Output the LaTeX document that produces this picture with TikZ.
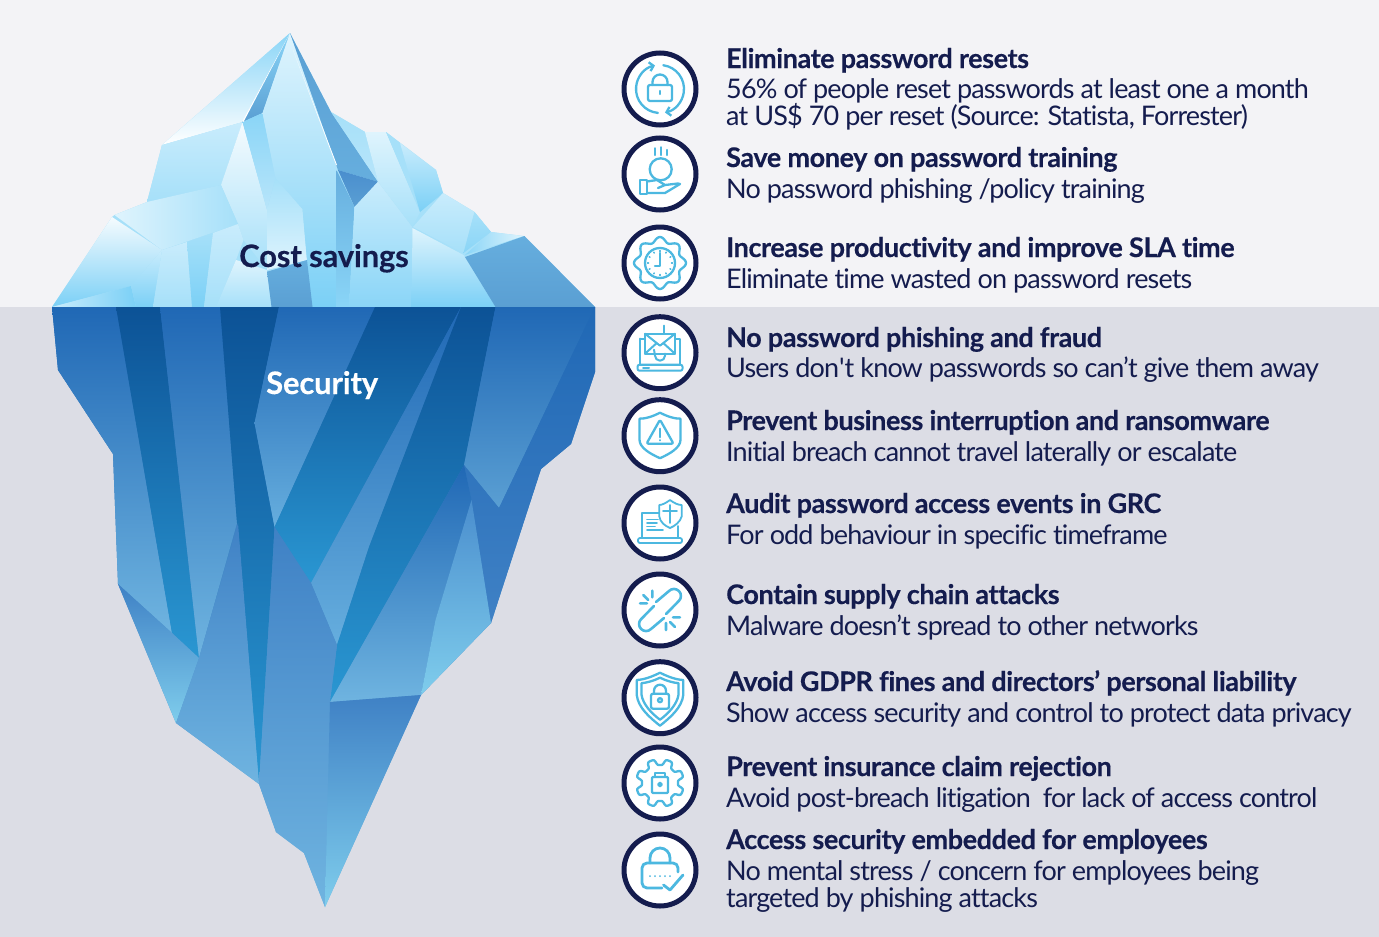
\documentclass[tikz,border=0pt]{standalone}
\usepackage{fontspec}
\setmainfont[Ligatures={TeX,NoCommon}]{Lato}
\usetikzlibrary{arrows.meta}
\definecolor{navy}{HTML}{141C4E}
\definecolor{iconblue}{HTML}{4CB8E0}
\definecolor{sky}{HTML}{F3F3F6}
\definecolor{sea}{HTML}{DCDDE5}
\definecolor{iceW}{HTML}{F5FBFE}
\definecolor{iceA}{HTML}{DFF4FD}
\definecolor{iceB}{HTML}{C9ECFC}
\definecolor{iceC}{HTML}{B8E5FA}
\definecolor{iceD}{HTML}{A6E0F9}
\definecolor{iceE}{HTML}{8AD5F7}
\definecolor{iceF}{HTML}{7BD0F6}
\definecolor{iceG}{HTML}{66AEDE}
\definecolor{iceH}{HTML}{5A9FD3}
\definecolor{iceI}{HTML}{4A8ECE}
\definecolor{surf}{HTML}{2068B5}
\definecolor{deep}{HTML}{0C5296}
\definecolor{cyanb}{HTML}{2A97D2}
\definecolor{palew}{HTML}{6FB4E0}
\definecolor{midw}{HTML}{3F81C5}
\definecolor{tipw}{HTML}{7FCDEC}
\tikzset{
  ice/.style 2 args={top color=#1,bottom color=#2,draw=none},
  iceh/.style 2 args={left color=#1,right color=#2,draw=none},
  badge/.style={draw=navy,fill=white,circle,line width=5pt,minimum size=72pt,inner sep=0pt},
  iconline/.style={draw=iconblue,line width=2.3pt,line cap=round,line join=round},
  head/.style={anchor=base west,inner sep=0pt,text=navy,font=\fontsize{27}{27}\selectfont\bfseries\addfontfeature{LetterSpace=-1.5,FakeBold=0.3}},
  sub/.style={anchor=base west,inner sep=0pt,text=navy,font=\fontsize{27}{27}\selectfont\addfontfeature{LetterSpace=-3.2}},
  tag/.style={anchor=base west,inner sep=0pt,font=\fontsize{31}{31}\selectfont\bfseries\addfontfeature{LetterSpace=-0.6,FakeBold=0.3}},
}
\begin{document}
\begin{tikzpicture}[x=1pt,y=-1pt]
    \useasboundingbox (0,0) rectangle (1379,937);
    \fill[sky] (0,0) rectangle (1379,307);
    \fill[sea] (0,307) rectangle (1379,937);

    \shade[ice={iceD}{iceD}] (290,33)--(331,112)--(365,132)--(386,132)--(436,170)--(443,193)--(474.5,212)--(491,232)--(523.5,236)--(595,307)--(52,307)--(112,217)--(114.5,215)--(147,202)--(162,145)--cycle;
    \shade[ice={iceE}{white}] (290,33)--(162,145)--(242.5,122)--cycle;
    \shade[ice={iceE}{iceH}] (290,33)--(242.5,122)--(262.5,113)--cycle;
    \shade[ice={iceB}{iceD}] (162,145)--(242.5,122)--(221,185)--(147,202)--cycle;
    \shade[ice={iceW}{iceD}] (242.5,122)--(221,185)--(238,224)--(243.5,240)--(267,270)--(267,210)--cycle;
    \shade[ice={iceE}{iceC}] (242.5,122)--(262.5,113)--(275.5,178)--(267,210)--cycle;
    \shade[ice={iceD}{iceA}] (275.5,178)--(302.5,209)--(307,260)--(267,270)--(267,210)--cycle;
    \shade[ice={iceA}{iceF}] (290,33)--(262.5,113)--(275.5,178)--(302.5,209)--(311,307)--(336.5,307)--(337,167)--cycle;
    \shade[ice={iceH}{iceG}] (290,33)--(331,112)--(378,181.7)--(338,170)--cycle;
    \shade[ice={iceI}{iceH}] (338,170)--(378,181.7)--(354.5,207)--cycle;
    \shade[ice={iceG}{iceE}] (336.5,170)--(354.5,207)--(349,307)--(336.5,307)--cycle;
    \shade[ice={iceB}{iceE}] (354.5,207)--(378,181.7)--(412.5,227)--(411.5,307)--(349,307)--cycle;
    \shade[ice={iceD}{iceC}] (331,112)--(365,132)--(378,181.7)--cycle;
    \shade[ice={iceA}{iceD}] (365,132)--(386,132)--(420,212)--(412.5,227)--(378,181.7)--cycle;
    \shade[ice={iceD}{iceD}] (386,132)--(400,143)--(423.5,200)--(420,212)--cycle;
    \shade[ice={iceB}{iceF}] (400,143)--(436,170)--(443,193)--(420,212)--cycle;
    \shade[ice={iceB}{iceD}] (443,193)--(474.5,212)--(463.5,253)--(413,227)--cycle;
    \shade[ice={iceD}{iceE}] (474.5,212)--(491,232)--(463.5,253)--cycle;
    \shade[iceh={iceE}{iceA}] (491,232)--(523.5,236)--(465,255)--cycle;
    \shade[ice={iceA}{iceF}] (412.5,228)--(463.5,255)--(495.5,307)--(411.5,307)--cycle;
    \shade[ice={iceG}{iceH}] (465,257)--(524.5,236)--(595,307)--(495.5,307)--cycle;
    \shade[iceh={iceA}{iceD}] (221,185)--(147,202)--(114.5,215)--(162,250)--(238,224)--cycle;
    \shade[ice={iceW}{iceF}] (112,217)--(162,250)--(131,286)--(52,307)--cycle;
    \shade[iceh={iceB}{iceF}] (52,307)--(131,286)--(136,307)--cycle;
    \shade[ice={iceB}{iceF}] (131,286)--(162,250)--(153,307)--(136,307)--cycle;
    \shade[ice={iceB}{iceD}] (162,250)--(187,242)--(192,307)--(153,307)--cycle;
    \shade[ice={iceD}{iceF}] (187,242)--(213,233)--(204,307)--(192,307)--cycle;
    \shade[ice={iceB}{iceD}] (213,233)--(238,224)--(243.5,240)--(236,260)--(216,307)--(204,307)--cycle;
    \shade[ice={iceA}{iceD}] (236,260)--(267,270)--(271.5,307)--(216,307)--cycle;
    \shade[ice={iceG}{iceH}] (267,271.7)--(307,260)--(312.5,307)--(271.5,307)--cycle;
    \fill[white] (290,33)--(242.5,121)--(243.5,122)--cycle;
    \fill[white] (293,50)--(336,165)--(337,165)--cycle;

    \shade[ice={surf}{palew}] (52,307)--(595,307)--(595,372)--(571,444)--(541,469)--(491,623)--(421,695)--(325,907)--(304,853)--(276,832)--(259,784)--(176,723)--(118,584)--(113,454)--(58,370)--cycle;
    \shade[ice={surf}{palew}] (52,307)--(116,307)--(172,633)--(118,584)--(113,454)--(58,370)--cycle;
    \shade[ice={deep}{cyanb}] (116,307)--(160,307)--(199,658)--(172,633)--cycle;
    \shade[ice={surf}{palew}] (160,307)--(220,307)--(237,523)--(199,658)--cycle;
    \shade[ice={midw}{tipw}] (118,584)--(172,633)--(199,658)--(176,723)--cycle;
    \shade[ice={deep}{cyanb}] (220,307)--(279,307)--(254.5,423)--(274.5,527)--(259,784)--(240.7,560)--(237,523)--cycle;
    \shade[ice={midw}{palew}] (238,523)--(259,784)--(176,723)--(199,658)--cycle;
    \shade[ice={surf}{iceG}] (279,307)--(375,307)--(274.5,527)--(254.5,423)--cycle;
    \shade[ice={deep}{cyanb}] (375,307)--(461,307)--(311,583)--(274.5,527)--cycle;
    \shade[ice={surf}{iceG}] (461,307)--(311,583)--(337,645)--(369,547)--cycle;
    \shade[ice={deep}{cyanb}] (461,307)--(495.5,307)--(464,465)--(330,702)--(337,645)--(369,547)--cycle;
    \shade[ice={surf}{iceH}] (495.5,307)--(595,307)--(571,357)--(499,508)--(464,465)--cycle;
    \shade[ice={surf}{midw}] (595,307)--(595,372)--(571,444)--(541,469)--(491,623)--(471.5,500)--(464,465)--(499,508)--(571,357)--cycle;
    \shade[ice={surf}{palew}] (464,465)--(330,702)--(421,695)--(435.5,620)--(471.5,500)--cycle;
    \shade[ice={iceI}{tipw}] (471.5,500)--(491,623)--(421,695)--(435.5,620)--cycle;
    \shade[ice={midw}{palew}] (274.5,527)--(311,583)--(337,645)--(330,702)--(325,907)--(304,853)--(276,832)--(259,784)--(273,560)--cycle;
    \shade[ice={midw}{tipw}] (330,702)--(421,695)--(325,907)--cycle;

    \node[tag,text=navy] (cost) at (239,267) {Cost savings};
    \node[tag,text=white] (sec) at (266,394) {Security};

    \node[badge] (c1) at (660,89) {};
    \node[badge] (c2) at (660,174) {};
    \node[badge] (c3) at (660,263) {};
    \node[badge] (c4) at (660,352.7) {};
    \node[badge] (c5) at (660,435.7) {};
    \node[badge] (c6) at (660,523) {};
    \node[badge] (c7) at (660,610) {};
    \node[badge] (c8) at (660,697.7) {};
    \node[badge] (c9) at (660,783) {};
    \node[badge] (c10) at (660,870) {};

    \begin{scope}[shift={(660,89)},iconline]
        \draw[-{Straight Barb[length=4pt,width=9pt]}] (0,0) ++(95:24) arc[start angle=95,end angle=258,radius=24];
        \draw[-{Straight Barb[length=4pt,width=9pt]}] (0,0) ++(-82:24) arc[start angle=-82,end angle=78,radius=24];
        \draw[rounded corners=2pt] (-12,-4) rectangle (12,12);
        \draw (-7.5,-4) -- (-7.5,-7) arc[start angle=180,end angle=360,radius=7.5] -- (7.5,-4);
        \draw (0,2) -- (0,5);
    \end{scope}

    \begin{scope}[shift={(660,174)},iconline]
        \draw (-5,-25.7) -- (-5,-19) (0.7,-26.7) -- (0.7,-19) (6.7,-24) -- (6.7,-19);
        \draw (0.7,-4.7) circle[radius=11];
        \draw (-20,6) rectangle (-13.3,20);
        \draw (-13,7.5) -- (-3,6) -- (5,11) -- (-2,14) (5,11) -- (18,9.5) -- (20,10) -- (5,19) -- (-13,19);
    \end{scope}

    \begin{scope}[shift={(660,263)},iconline]
        \draw plot[domain=0:360,samples=121] (\x:{23.5+2.5*cos(8*\x)}) -- cycle;
        \draw (0,0) circle[radius=15];
        \foreach \a in {0,30,...,330} \draw[line width=1.5pt] (\a:11.5) -- (\a:12.5);
        \draw (0,-10) -- (0,3) -- (-5,3);
    \end{scope}

    \begin{scope}[shift={(660,352.7)},iconline,line width=2pt]
        \draw (-20,-14) -- (-20,12) -- (20,12) -- (20,-14) -- (15,-14) (-15,-14) -- (-20,-14);
        \draw[rounded corners=2pt] (-22.5,12) rectangle (22.5,18);
        \draw[fill=white] (-15,-19) rectangle (15,1);
        \draw (-15,-19) -- (0,-7) -- (15,-19) (-15,1) -- (-4,-9) (15,1) -- (4,-9);
        \draw (4.3,-27) -- (4.3,-20);
        \draw (-6,-3) -- (-5,3) arc[start angle=180,end angle=0,radius=5] -- (5,1);
        \draw (-17,15) -- (-11,15);
    \end{scope}

    \begin{scope}[shift={(660,435.7)},iconline]
        \draw (0,-23) .. controls (-8,-19) and (-14,-17) .. (-20.5,-17) -- (-20.5,4) .. controls (-20.5,12) and (-10,18) .. (0,22.5) .. controls (10,18) and (20.5,12) .. (20.5,4) -- (20.5,-17) .. controls (14,-17) and (8,-19) .. (0,-23);
        \draw[rounded corners=2pt] (0,-16) -- (13.5,8) -- (-13.5,8) -- cycle;
        \draw (0,-7) -- (0,1.5) (0,4.5) -- (0,4.6);
    \end{scope}

    \begin{scope}[shift={(660,523)},iconline,line width=1.8pt]
        \draw (0,-10) -- (-18,-10) -- (-18,15) -- (18,15) -- (18,3);
        \draw[rounded corners=2pt] (-22,15) rectangle (22,20);
        \draw (-13,-3.5) -- (-2,-3.5) (-13,0) -- (-3,0) (-13,3.5) -- (-5,3.5) (-13,7) -- (3,7);
        \draw[fill=white] (10,-23) .. controls (6,-20) and (2,-18) .. (-0.7,-18) -- (-0.7,-6.5) .. controls (0,-1) and (5,3) .. (10,5) .. controls (15,3) and (20,-1) .. (21.7,-6.5) -- (21.7,-18) .. controls (18,-18) and (14,-20) .. (10,-23);
        \draw (10,-18) -- (10,0) (3,-12) -- (17,-12);
    \end{scope}

    \begin{scope}[shift={(660,610)},iconline,line width=2.6pt]
        \draw (-4,-8) -- (9,-19) arc[start angle=225,end angle=405,radius=7] -- (6,4);
        \draw (4,8) -- (-9,19) arc[start angle=45,end angle=225,radius=7] -- (-6,-4);
        \draw (-20,-6.7) -- (-13,-6.7) (-16.7,-15) -- (-11.7,-10) (-7.7,-19.3) -- (-7.7,-12.7);
        \draw (13,7.3) -- (20,7.3) (10,12) -- (15,17) (6,13) -- (6,20);
    \end{scope}

    \begin{scope}[shift={(660,697.7)},iconline]
        \draw (0,-25) .. controls (-8,-21) and (-16,-18) .. (-23.3,-17.7) -- (-23.3,-3) .. controls (-22,10) and (-10,20) .. (0,28) .. controls (10,20) and (22,10) .. (23.3,-3) -- (23.3,-17.7) .. controls (16,-18) and (8,-21) .. (0,-25);
        \draw (0,-20) .. controls (-6,-17) and (-13,-15) .. (-18.5,-14.5) -- (-18.5,-3) .. controls (-17,7) and (-8,16) .. (0,22) .. controls (8,16) and (17,7) .. (18.5,-3) -- (18.5,-14.5) .. controls (13,-15) and (6,-17) .. (0,-20);
        \draw[rounded corners=2pt] (-9,-4) rectangle (9,11);
        \draw (-6,-4) -- (-6,-7) arc[start angle=180,end angle=360,radius=6] -- (6,-4);
        \draw (0,2.5) circle[radius=2];
    \end{scope}

    \begin{scope}[shift={(660,783)},iconline]
        \draw plot[domain=0:360,samples=145] (\x+22.5:{21+3*tanh(2.5*cos(8*\x))}) -- cycle;
        \draw[rounded corners=1pt] (-8,-6) rectangle (8,10);
        \draw (-5,-6) -- (-5,-10) -- (5,-10) -- (5,-6);
        \draw (0,1.5) circle[radius=1.8];
    \end{scope}

    \begin{scope}[shift={(660,870)},iconline,line width=2.8pt]
        \draw[rounded corners=5pt] (2,18) -- (-18,18) -- (-18,-7) -- (18,-7) -- (18,2);
        \draw (-10,-7) -- (-10,-12) arc[start angle=180,end angle=360,radius=10] -- (10,-7);
        \draw (3.5,15) -- (10,20) -- (23,5);
        \foreach \x in {-10,-5,0,5,10} \draw[line width=2pt] (\x,6) -- (\x,6.1);
    \end{scope}

    \node[head] (t1) at (726,68) {Eliminate password resets};
    \node[sub] (s1) at (726,98) {56\% of people reset passwords at least one a month};
    \node[sub] (r1) at (726,125) {at US\$ 70 per reset (Source: Statista, Forrester)};
    \node[head] (t2) at (726,167) {Save money on password training};
    \node[sub] (s2) at (726,198) {No password phishing /policy training};
    \node[head] (t3) at (726,257) {Increase productivity and improve SLA time};
    \node[sub] (s3) at (726,288) {Eliminate time wasted on password resets};
    \node[head] (t4) at (726,347) {No password phishing and fraud};
    \node[sub] (s4) at (726,377) {Users don\textquotesingle t know passwords so can’t give them away};
    \node[head] (t5) at (726,430) {Prevent business interruption and ransomware};
    \node[sub] (s5) at (726,461) {Initial breach cannot travel laterally or escalate};
    \node[head] (t6) at (726,513) {Audit password access events in GRC};
    \node[sub] (s6) at (726,544) {For odd behaviour in specific timeframe};
    \node[head] (t7) at (726,604) {Contain supply chain attacks};
    \node[sub] (s7) at (726,635) {Malware doesn’t spread to other networks};
    \node[head] (t8) at (726,691) {Avoid GDPR fines and directors’ personal liability};
    \node[sub] (s8) at (726,722) {Show access security and control to protect data privacy};
    \node[head] (t9) at (726,776) {Prevent insurance claim rejection};
    \node[sub] (s9) at (726,807) {Avoid post-breach litigation\ \ for lack of access control};
    \node[head] (t10) at (726,849) {Access security embedded for employees};
    \node[sub] (s10) at (726,880) {No mental stress / concern for employees being};
    \node[sub] (r10) at (726,907) {targeted by phishing attacks};
\end{tikzpicture}
\end{document}
